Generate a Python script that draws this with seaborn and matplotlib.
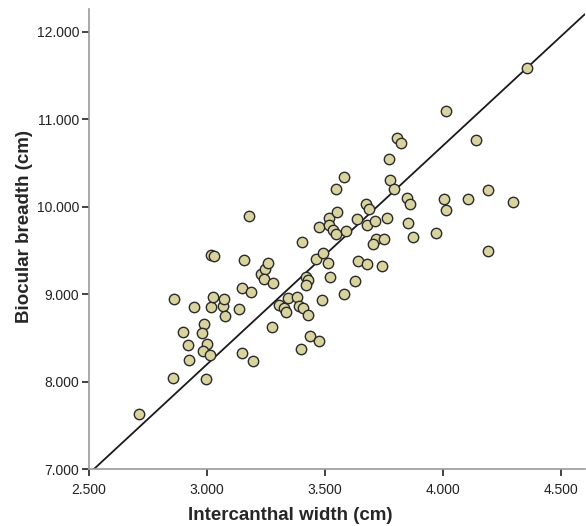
import numpy as np
import pandas as pd
import matplotlib
matplotlib.use('Agg')
import matplotlib.pyplot as plt
import seaborn as sns

# values
intercanthal = [2.712, 2.856, 2.996, 2.924, 3.148, 3.195, 2.919, 3.000, 2.983, 3.013,
                2.898, 2.987, 2.979, 2.860, 2.945, 3.017, 3.025, 3.068, 3.072, 3.076,
                3.136, 3.148, 3.186, 3.017, 3.030, 3.157, 3.178, 3.229, 3.246, 3.258,
                3.242, 3.280, 3.275, 3.305, 3.326, 3.335, 3.343, 3.381, 3.390, 3.407,
                3.428, 3.398, 3.436, 3.475, 3.487, 3.581, 3.419, 3.428, 3.419, 3.521,
                3.627, 3.403, 3.462, 3.492, 3.513, 3.640, 3.678, 3.742, 3.475, 3.517,
                3.517, 3.534, 3.547, 3.589, 3.636, 3.678, 3.712, 3.763, 3.716, 3.750,
                3.703, 3.551, 3.674, 3.686, 3.547, 3.581, 3.775, 3.792, 3.771, 3.805,
                3.822, 3.847, 3.860, 3.852, 3.873, 3.970, 4.004, 4.013, 4.106, 4.191,
                4.297, 4.191, 4.013, 4.140, 4.356]
biocular = [7.629, 8.041, 8.030, 8.247, 8.327, 8.236, 8.419, 8.430, 8.350, 8.304,
            8.568, 8.659, 8.556, 8.945, 8.854, 8.854, 8.968, 8.865, 8.945, 8.751,
            8.831, 9.071, 9.025, 9.449, 9.437, 9.391, 9.895, 9.231, 9.288, 9.357,
            9.174, 9.128, 8.625, 8.876, 8.842, 8.796, 8.957, 8.968, 8.865, 8.842,
            8.762, 8.373, 8.522, 8.465, 8.934, 9.002, 9.197, 9.162, 9.105, 9.197,
            9.151, 9.597, 9.403, 9.471, 9.357, 9.380, 9.346, 9.323, 9.769, 9.872,
            9.792, 9.735, 9.689, 9.723, 9.860, 9.792, 9.838, 9.872, 9.632, 9.632,
            9.574, 9.941, 10.032, 9.975, 10.204, 10.341, 10.307, 10.204, 10.547, 10.787,
            10.730, 10.101, 10.032, 9.815, 9.654, 9.700, 10.089, 9.963, 10.089, 10.192,
            10.055, 9.494, 11.096, 10.764, 11.588]

line_slope = 2.5
line_intercept = 0.7

x_ticks = [2.5, 3.0, 3.5, 4.0, 4.5]
y_ticks = [7.0, 8.0, 9.0, 10.0, 11.0, 12.0]

df = pd.DataFrame({'Intercanthal width (cm)': intercanthal,
                   'Biocular breadth (cm)': biocular})

sns.set_theme(style="white")
plt.rcParams['font.family'] = ['Liberation Sans', 'DejaVu Sans']

fig = plt.figure(figsize=(5.86, 5.26), dpi=100)
ax = fig.add_axes([0.152, 0.108, 0.846, 0.875])

ax.axline((0, line_intercept), slope=line_slope, color='#1a1a1a', lw=1.3, zorder=1)
sns.scatterplot(data=df, x='Intercanthal width (cm)', y='Biocular breadth (cm)',
                s=56, color='#d9d49f', edgecolor='#2a2a2a', linewidth=1.0,
                ax=ax, zorder=2)

ax.set_xlim(2.5, 4.6)
ax.set_ylim(7.0, 12.26)
ax.set_xticks(x_ticks)
ax.set_yticks(y_ticks)
ax.set_xticklabels([f'{v:.3f}' for v in x_ticks])
ax.set_yticklabels([f'{v:.3f}' for v in y_ticks])
ax.tick_params(axis='both', direction='out', length=5, width=1.2, color='#222222',
               labelsize=10, labelcolor='#222222', pad=2, bottom=True, left=True)
ax.tick_params(axis='x', pad=5)

for side in ['top', 'right']:
    ax.spines[side].set_visible(False)
for side in ['left', 'bottom']:
    ax.spines[side].set_color('#999999')
    ax.spines[side].set_linewidth(1.2)

ax.set_xlabel('Intercanthal width (cm)', fontsize=13.5, fontweight='bold')
ax.set_ylabel('Biocular breadth (cm)', fontsize=13.5, fontweight='bold')
ax.xaxis.set_label_coords(0.405, -0.082)
ax.yaxis.set_label_coords(-0.113, 0.528)

fig.savefig('out.png', dpi=100)
